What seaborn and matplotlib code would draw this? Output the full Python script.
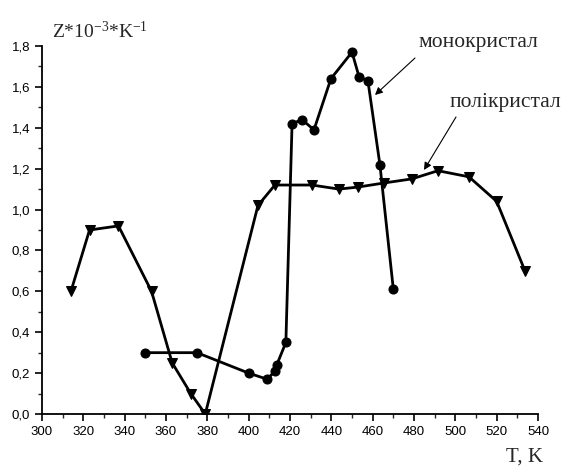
import matplotlib
matplotlib.use("Agg")
import matplotlib.pyplot as plt
import matplotlib.ticker as mticker
import seaborn as sns
import pandas as pd

# Polycrystal series
poly_T = [314, 323, 337, 353, 363, 372, 379, 404.5, 412.7, 430.6, 443.7, 452.9, 465.5, 479, 491.6, 506.6, 520, 533.7]
poly_Z = [0.60, 0.90, 0.92, 0.60, 0.25, 0.10, 0.00, 1.02, 1.12, 1.12, 1.10, 1.11, 1.13, 1.15, 1.19, 1.16, 1.04, 0.70]

# Monocrystal series
mono_T = [350, 375, 400, 409, 412.7, 413.6, 418, 421, 425.8, 431.6, 439.8, 450, 453.4, 457.7, 463.5, 470]
mono_Z = [0.30, 0.30, 0.20, 0.17, 0.21, 0.24, 0.35, 1.42, 1.44, 1.39, 1.64, 1.77, 1.65, 1.63, 1.22, 0.61]

x_ticks = [300, 320, 340, 360, 380, 400, 420, 440, 460, 480, 500, 520, 540]
y_ticks = [0.0, 0.2, 0.4, 0.6, 0.8, 1.0, 1.2, 1.4, 1.6, 1.8]

label_mono = "монокристал"
label_poly = "полікристал"
y_title = r"Z*10$^{\mathregular{-3}}$*K$^{\mathregular{-1}}$"
x_title = "T, K"

sns.set_style("ticks")
plt.rcParams['font.family'] = ['Liberation Sans', 'DejaVu Sans']
plt.rcParams['mathtext.fontset'] = 'custom'
plt.rcParams['mathtext.rm'] = 'Liberation Serif'
plt.rcParams['mathtext.it'] = 'Liberation Serif'
plt.rcParams['mathtext.default'] = 'regular'

W, H = 562, 468
fig = plt.figure(figsize=(W / 100, H / 100), dpi=100)
ax = fig.add_axes([42 / W, 1 - 414 / H, (538 - 42) / W, (414 - 46) / H])

df_poly = pd.DataFrame({"T": poly_T, "Z": poly_Z})
df_mono = pd.DataFrame({"T": mono_T, "Z": mono_Z})

sns.lineplot(data=df_poly, x="T", y="Z", sort=False, ax=ax, color="black",
             linewidth=2.0, marker="v", markersize=7.5, markeredgecolor="black",
             markerfacecolor="black")
sns.lineplot(data=df_mono, x="T", y="Z", sort=False, ax=ax, color="black",
             linewidth=2.0, marker="o", markersize=6.5, markeredgecolor="black",
             markerfacecolor="black")

ax.set_xlim(300, 540)
ax.set_ylim(0, 1.8)
ax.set_xticks(x_ticks)
ax.set_yticks(y_ticks)
ax.xaxis.set_minor_locator(mticker.MultipleLocator(10))
ax.yaxis.set_minor_locator(mticker.MultipleLocator(0.1))
ax.yaxis.set_major_formatter(mticker.FuncFormatter(lambda v, p: f"{v:.1f}".replace(".", ",")))
ax.tick_params(which="major", direction="out", length=5, width=1.2, labelsize=9.5, colors="black")
ax.tick_params(which="minor", direction="out", length=3, width=1.0)
for s in ["top", "right"]:
    ax.spines[s].set_visible(False)
for s in ["left", "bottom"]:
    ax.spines[s].set_linewidth(1.3)
    ax.spines[s].set_color("black")
ax.set_xlabel("")
ax.set_ylabel("")

serif = ['Liberation Serif', 'DejaVu Serif']
fig.text(52 / W, 1 - 31 / H, y_title, family=serif, fontsize=14, ha="left", va="center")
fig.text(543 / W, 1 - 457 / H, x_title, family=serif, fontsize=15, ha="right", va="center")

fig.text(478 / W, 1 - 43 / H, label_mono, family=serif, fontsize=15.5, ha="center", va="center")
fig.text(505 / W, 1 - 102 / H, label_poly, family=serif, fontsize=15.5, ha="center", va="center")

arrow = dict(arrowstyle="-|>", color="black", lw=0.8, mutation_scale=11, shrinkA=0, shrinkB=0)
ax.annotate("", xy=(375, H - 95), xytext=(415, H - 58), xycoords="figure pixels",
            textcoords="figure pixels", arrowprops=arrow)
ax.annotate("", xy=(424, H - 170), xytext=(456, H - 117), xycoords="figure pixels",
            textcoords="figure pixels", arrowprops=arrow)

fig.savefig("out.png", dpi=100)
